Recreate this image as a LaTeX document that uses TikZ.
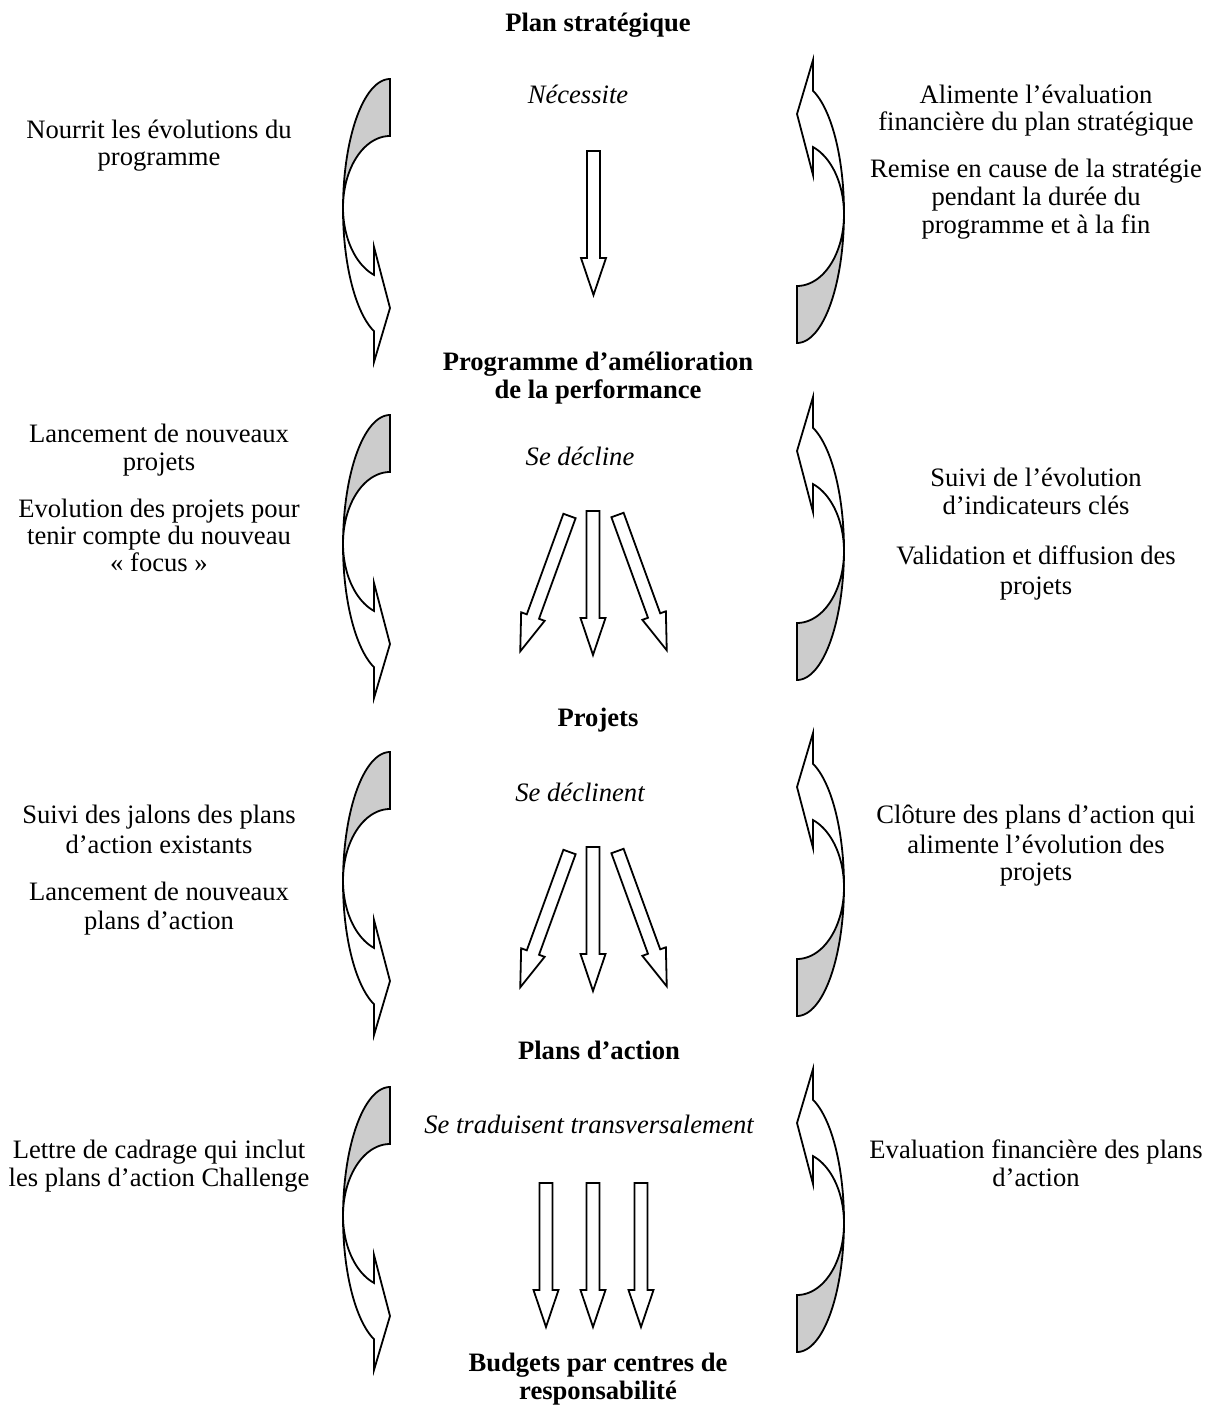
\documentclass[tikz,border=0pt]{standalone}
\usepackage{fontspec}
\setmainfont{Liberation Serif}
\definecolor{backshade}{gray}{0.80}
\newcommand{\notesize}{\fontsize{13.3pt}{15pt}\selectfont}
\begin{document}
\begin{tikzpicture}[x=0.5pt,y=-0.5pt,
  every node/.style={inner sep=0pt, font=\notesize},
  title/.style={font=\notesize\bfseries, anchor=base},
  verb/.style={font=\notesize\itshape, anchor=base},
  note/.style={anchor=base},
  outline/.style={draw=black, line width=0.9pt, line join=miter},
  % curved return arrow: shaded back part on top, white front band ending in a head
  pics/loopback/.style={code={
    \path[outline, fill=backshade]
      plot[domain=90:180, samples=40] ({47*cos(\x)},{130*sin(\x)})
      -- plot[domain=180:90, samples=40] ({47*cos(\x)},{1.4+71.6*sin(\x)}) -- cycle;
    \path[outline, fill=white]
      plot[domain=180:250.1, samples=40] ({47*cos(\x)},{130*sin(\x)})
      -- (-16,-153) -- (0,-99) -- (-16,-38)
      -- plot[domain=250.1:180, samples=40] ({47*cos(\x)},{1.4+71.6*sin(\x)}) -- cycle;
  }},
  % hollow block arrow pointing down from its top centre
  pics/blockarrow/.style={code={
    \path[outline, fill=white] (-6.5,0) -- (6.5,0) -- (6.5,107) -- (12.5,107)
      -- (0,144) -- (-12.5,107) -- (-6.5,107) -- cycle;
  }}
]
\useasboundingbox (0,0) rectangle (1208,1411);

% ---- levels
\node[title] (t1)  at (598,32)   {Plan stratégique};
\node[title] (t2a) at (598,371)  {Programme d’amélioration};
\node[title] (t2b) at (598,399)  {de la performance};
\node[title] (t3)  at (598,726)  {Projets};
\node[title] (t4)  at (599,1059) {Plans d’action};
\node[title] (t5a) at (598,1371) {Budgets par centres de};
\node[title] (t5b) at (598,1399) {responsabilité};

% ---- links between levels
\node[verb] (v1) at (578,104)  {Nécessite};
\node[verb] (v2) at (580,465)  {Se décline};
\node[verb] (v3) at (580,801)  {Se déclinent};
\node[verb] (v4) at (589,1133) {Se traduisent transversalement};

\pic at (593.5,151) {blockarrow};

\pic[rotate=-20] at (569.5,516) {blockarrow};
\pic at (593,511) {blockarrow};
\pic[rotate=20] at (617.5,515) {blockarrow};

\pic[rotate=-20] at (569.5,852) {blockarrow};
\pic at (593,847) {blockarrow};
\pic[rotate=20] at (617.5,851) {blockarrow};

\pic at (546,1183) {blockarrow};
\pic at (593,1183) {blockarrow};
\pic at (641,1183) {blockarrow};

% ---- return loops
\pic[yscale=-1] at (390,209)  {loopback};
\pic[yscale=-1] at (390,545)  {loopback};
\pic[yscale=-1] at (390,882)  {loopback};
\pic[yscale=-1] at (390,1217) {loopback};

\pic[xscale=-1] at (797,213)  {loopback};
\pic[xscale=-1] at (797,550)  {loopback};
\pic[xscale=-1] at (797,886)  {loopback};
\pic[xscale=-1] at (797,1222) {loopback};

% ---- left notes
\node[note] (l1a) at (159,139) {Nourrit les évolutions du};
\node[note] (l1b) at (159,166) {programme};

\node[note] (l2a) at (159,443) {Lancement de nouveaux};
\node[note] (l2b) at (159,470) {projets};
\node[note] (l2c) at (159,517) {Evolution des projets pour};
\node[note] (l2d) at (159,544) {tenir compte du nouveau};
\node[note] (l2e) at (159,571) {« focus »};

\node[note] (l3a) at (159,823) {Suivi des jalons des plans};
\node[note] (l3b) at (159,853) {d’action existants};
\node[note] (l3c) at (159,900) {Lancement de nouveaux};
\node[note] (l3d) at (159,929) {plans d’action};

\node[note] (l4a) at (159,1158) {Lettre de cadrage qui inclut};
\node[note] (l4b) at (159,1186) {les plans d’action Challenge};

% ---- right notes
\node[note] (r1a) at (1036,104) {Alimente l’évaluation};
\node[note] (r1b) at (1036,131) {financière du plan stratégique};
\node[note] (r1c) at (1036,178) {Remise en cause de la stratégie};
\node[note] (r1d) at (1036,206) {pendant la durée du};
\node[note] (r1e) at (1036,234) {programme et à la fin};

\node[note] (r2a) at (1036,486) {Suivi de l’évolution};
\node[note] (r2b) at (1036,514) {d’indicateurs clés};
\node[note] (r2c) at (1036,564) {Validation et diffusion des};
\node[note] (r2d) at (1036,594) {projets};

\node[note] (r3a) at (1036,823) {Clôture des plans d’action qui};
\node[note] (r3b) at (1036,853) {alimente l’évolution des};
\node[note] (r3c) at (1036,880) {projets};

\node[note] (r4a) at (1036,1158) {Evaluation financière des plans};
\node[note] (r4b) at (1036,1186) {d’action};
\end{tikzpicture}
\end{document}
